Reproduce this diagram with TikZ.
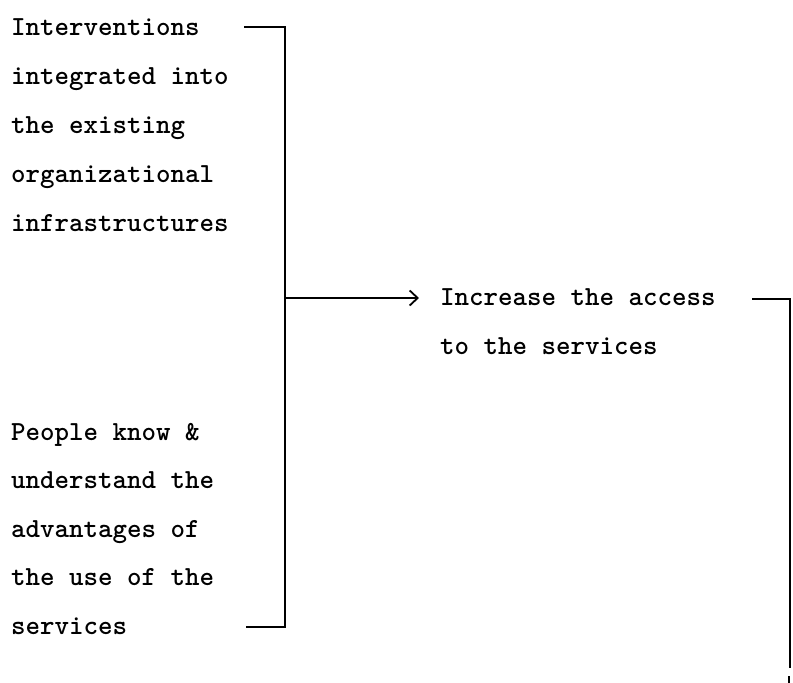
\documentclass[tikz,border=0pt]{standalone}
\usetikzlibrary{arrows.meta}
\begin{document}
\begin{tikzpicture}[x=1pt,y=-1pt,
  txt/.style={anchor=base west,inner sep=0pt,
    font=\ttfamily\bfseries\fontsize{27.6}{33}\selectfont},
  rule/.style={line width=2.2pt,line cap=butt,line join=miter},
  feed/.style={rule,-{Straight Barb[length=8pt,width=15pt,line width=1.8pt]}}]
\useasboundingbox (0,0) rectangle (793,683);

% left-hand conditions
\node[txt] (a1) at (11,35)  {Interventions};
\node[txt] (a2) at (11,84)  {integrated into};
\node[txt] (a3) at (11,133) {the existing};
\node[txt] (a4) at (11,182) {organizational};
\node[txt] (a5) at (11,231) {infrastructures};

\node[txt] (b1) at (11,440)   {People know \&};
\node[txt] (b2) at (11,488.5) {understand the};
\node[txt] (b3) at (11,537)   {advantages of};
\node[txt] (b4) at (11,585.5) {the use of the};
\node[txt] (b5) at (11,634)   {services};

% outcome
\node[txt] (c1) at (440,305) {Increase the access};
\node[txt] (c2) at (440,354) {to the services};

% bracket joining the two conditions
\coordinate (ta) at (244,27);
\coordinate (tb) at (285,27);
\coordinate (ba) at (246,627);
\coordinate (bb) at (285,627);
\coordinate (jn) at (285,298);
\coordinate (tip) at (419,298);
\draw[rule] (ta) -- (tb) -- (bb) -- (ba);
\draw[feed] (jn) -- (tip);

% bracket leading on from the outcome
\coordinate (ra) at (752,299);
\coordinate (rb) at (790,299);
\coordinate (rc) at (790,668);
\coordinate (sa) at (789,676);
\coordinate (sb) at (789,683);
\draw[rule] (ra) -- (rb) -- (rc);
\draw[rule] (sa) -- (sb);
\end{tikzpicture}
\end{document}
